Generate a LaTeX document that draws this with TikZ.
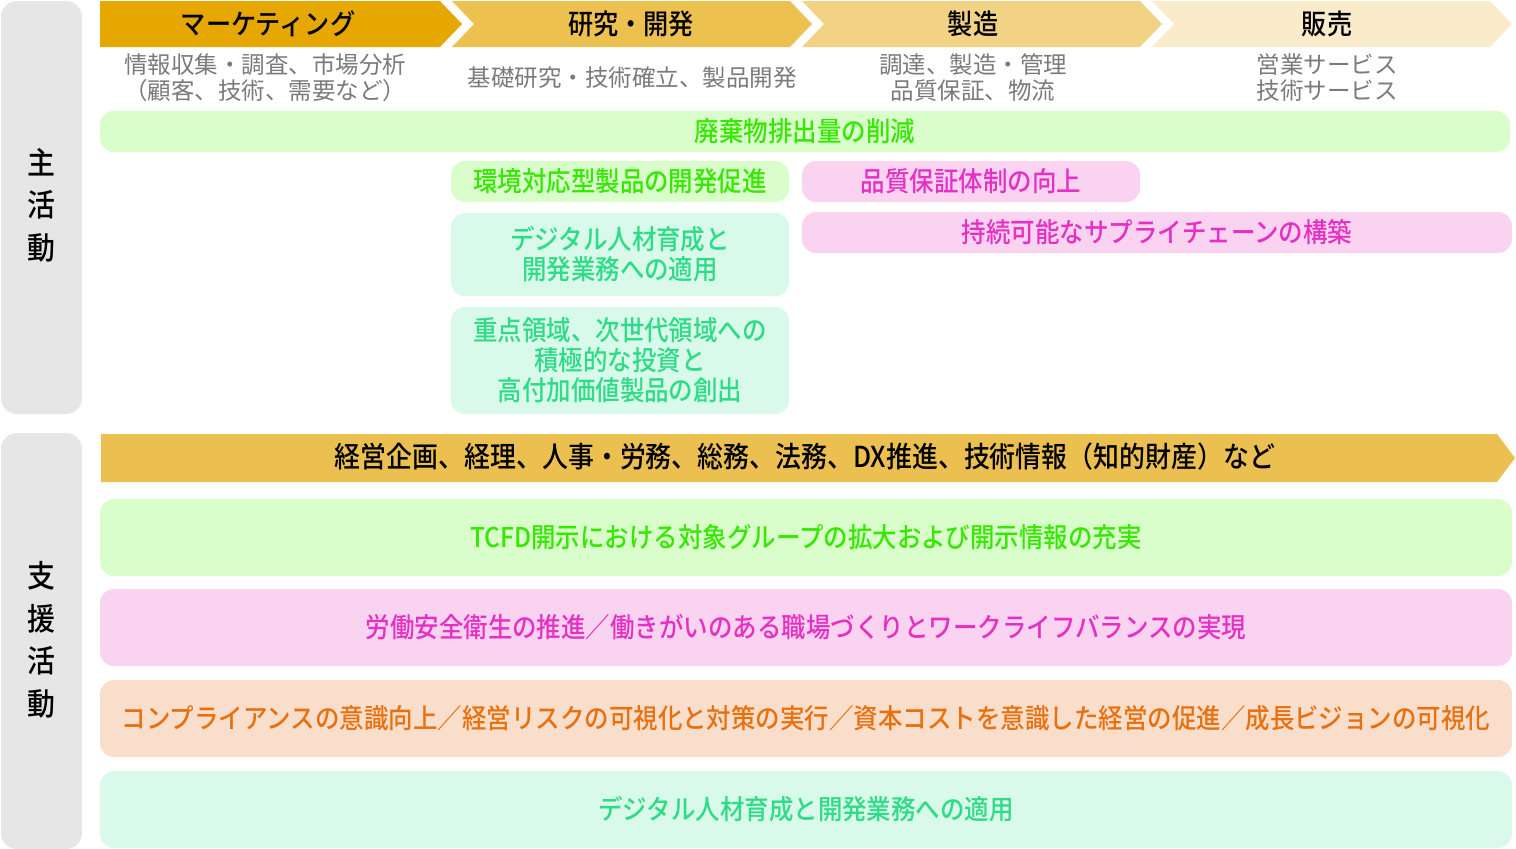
\documentclass[tikz,border=0pt]{standalone}
\usepackage{fontspec}
\setmainfont{Noto Sans CJK JP}
\newfontfamily\jpmed{Noto Sans CJK JP Medium}[FakeStretch=0.9]
\usepackage{tikz}
\usetikzlibrary{calc}
\usepackage{xcolor}
\definecolor{sidegray}{HTML}{E6E6E6}
\definecolor{stageA}{HTML}{E6A700}
\definecolor{stageB}{HTML}{EDC150}
\definecolor{stageC}{HTML}{F2D285}
\definecolor{stageD}{HTML}{FAEBCB}
\definecolor{supbar}{HTML}{ECC050}
\definecolor{subgray}{HTML}{7A7A7A}
\definecolor{grfill}{HTML}{D9FDCB}
\definecolor{grtext}{HTML}{36E800}
\definecolor{pkfill}{HTML}{F9D3F0}
\definecolor{pktext}{HTML}{E630C4}
\definecolor{orfill}{HTML}{F9DFCB}
\definecolor{ortext}{HTML}{E8700F}
\definecolor{mtfill}{HTML}{D9FAEA}
\definecolor{mttext}{HTML}{2EDB86}

\begin{document}
\begin{tikzpicture}[x=1pt, y=-1pt,
  sidetext/.style={align=center, font=\fontsize{31}{42.5}\selectfont\jpmed},
  stagetext/.style={font=\fontsize{28}{30}\selectfont\jpmed},
  subtext/.style={align=center, text=subgray, font=\fontsize{23.5}{26}\selectfont},
  goalbox/.style={rounded corners=14, align=center, inner sep=0pt,
    font=\fontsize{27.2}{30}\selectfont\jpmed},
  grbox/.style={goalbox, fill=grfill, text=grtext},
  pkbox/.style={goalbox, fill=pkfill, text=pktext},
  orbox/.style={goalbox, fill=orfill, text=ortext},
  mtbox/.style={goalbox, fill=mtfill, text=mttext}]
\useasboundingbox (0,0) rectangle (1516,849);

% side panels
\fill[sidegray, rounded corners=16] (1,1) rectangle (82,414);
\fill[sidegray, rounded corners=16] (1,433) rectangle (82,849);
\node[sidetext] (primary) at (41,205) {主\\活\\動};
\node[sidetext] (support) at (41,640) {支\\援\\活\\動};

% value chain stages
\fill[stageA] (100,1) -- (440,1) -- (462,24) -- (440,47) -- (100,47) -- cycle;
\foreach \x/\c in {452/stageB, 802/stageC, 1152/stageD}
  \fill[\c] (\x,1) -- ++(338,0) -- ++(22,23) -- ++(-22,23) -- ++(-338,0) -- ++(22,-23) -- cycle;
\node[stagetext] (mkt) at (268,24) {マーケティング};
\node[stagetext] (rnd) at (631,24) {研究・開発};
\node[stagetext] (mfg) at (973,24) {製造};
\node[stagetext] (sales) at (1327,24) {販売};

\node[subtext] (mktsub) at (265,78) {情報収集・調査、市場分析\\（顧客、技術、需要など）};
\node[subtext] (rndsub) at (632,78) {基礎研究・技術確立、製品開発};
\node[subtext] (mfgsub) at (973,78) {調達、製造・管理\\品質保証、物流};
\node[subtext] (salessub) at (1327,78) {営業サービス\\技術サービス};

% primary activity goals
\node[grbox, minimum width=1410, minimum height=41] (waste) at (805,131.5) {廃棄物排出量の削減};
\node[grbox, minimum width=338, minimum height=41] (eco) at (620,181.5) {環境対応型製品の開発促進};
\node[pkbox, minimum width=338, minimum height=41] (qa) at (971,181.5) {品質保証体制の向上};
\node[pkbox, minimum width=710, minimum height=41] (chain) at (1157,232.5) {持続可能なサプライチェーンの構築};
\node[mtbox, minimum width=338, minimum height=83] (dxrnd) at (620,254.5) {デジタル人材育成と\\開発業務への適用};
\node[mtbox, minimum width=338, minimum height=107] (invest) at (620,360.5) {重点領域、次世代領域への\\積極的な投資と\\高付加価値製品の創出};

% support activities
\fill[supbar] (101,434) -- (1497,434) -- (1515,458) -- (1497,482) -- (101,482) -- cycle;
\node[stagetext, font=\fontsize{28.8}{30}\selectfont\jpmed] (staff) at (805,457) {経営企画、経理、人事・労務、総務、法務、DX推進、技術情報（知的財産）など};

\node[grbox, minimum width=1412, minimum height=77] (tcfd) at (806,537.5) {TCFD開示における対象グループの拡大および開示情報の充実};
\node[pkbox, minimum width=1412, minimum height=77] (safety) at (806,627.5) {労働安全衛生の推進／働きがいのある職場づくりとワークライフバランスの実現};
\node[orbox, minimum width=1412, minimum height=77] (comply) at (806,718.5) {コンプライアンスの意識向上／経営リスクの可視化と対策の実行／資本コストを意識した経営の促進／成長ビジョンの可視化};
\node[mtbox, minimum width=1412, minimum height=77] (dxall) at (806,809.5) {デジタル人材育成と開発業務への適用};
\end{tikzpicture}
\end{document}
